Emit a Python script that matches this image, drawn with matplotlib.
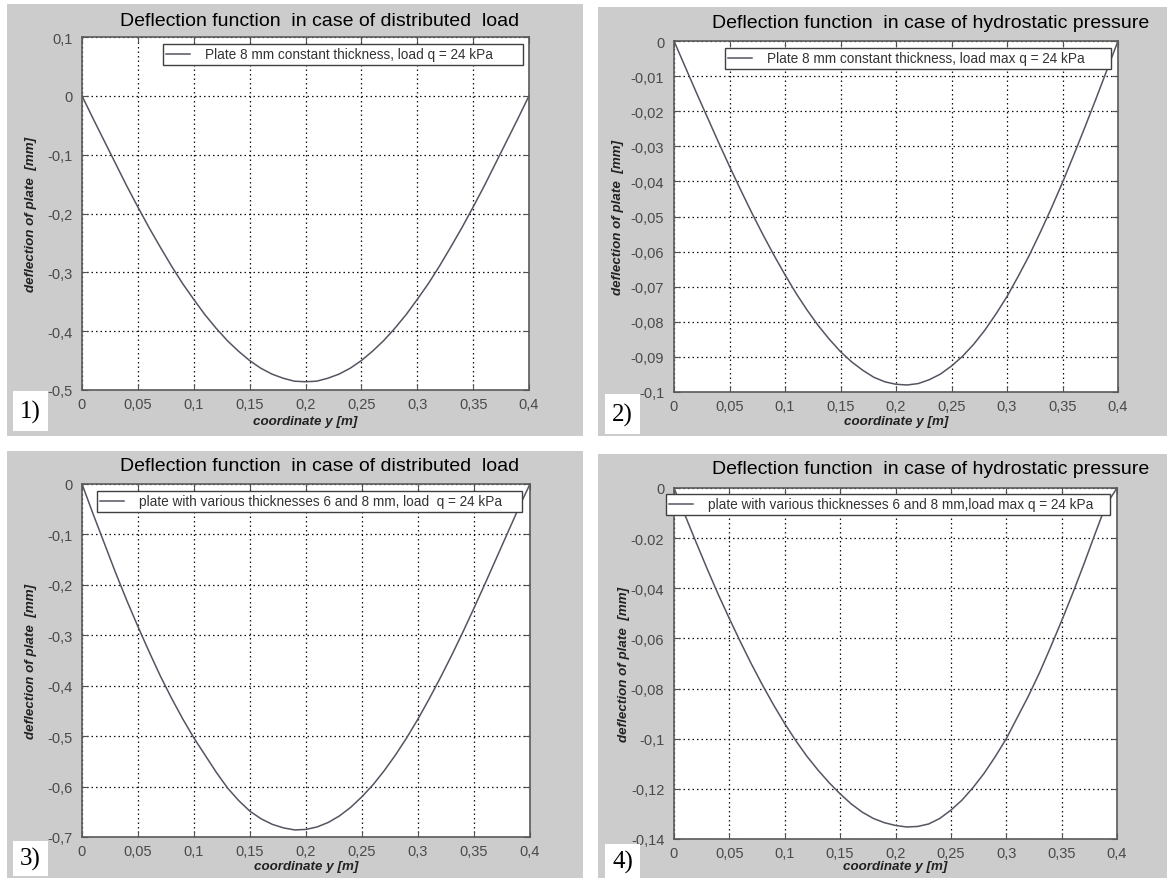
import matplotlib
matplotlib.use("Agg")
import matplotlib.pyplot as plt
from matplotlib.patches import Rectangle

plt.rcParams['font.family'] = ['Liberation Sans', 'DejaVu Sans']

W, H = 1167, 879

# coordinate y [m]
y_coord = [0.00, 0.01, 0.02, 0.03, 0.04, 0.05, 0.06, 0.07, 0.08, 0.09, 0.10,
           0.11, 0.12, 0.13, 0.14, 0.15, 0.16, 0.17, 0.18, 0.19, 0.20,
           0.21, 0.22, 0.23, 0.24, 0.25, 0.26, 0.27, 0.28, 0.29, 0.30,
           0.31, 0.32, 0.33, 0.34, 0.35, 0.36, 0.37, 0.38, 0.39, 0.40]

# deflection of plate [mm]
defl_1 = [0, -0.039, -0.077, -0.115, -0.153, -0.189, -0.224, -0.257, -0.289, -0.319, -0.346,
          -0.372, -0.395, -0.416, -0.434, -0.450, -0.463, -0.473, -0.480, -0.485, -0.486,
          -0.485, -0.480, -0.473, -0.463, -0.450, -0.434, -0.416, -0.395, -0.372, -0.346,
          -0.319, -0.289, -0.257, -0.224, -0.189, -0.153, -0.115, -0.077, -0.039, 0]
defl_2 = [0, -0.0073, -0.0146, -0.0217, -0.0288, -0.0357, -0.0424, -0.0489, -0.0551, -0.0610, -0.0666,
          -0.0719, -0.0767, -0.0811, -0.0850, -0.0885, -0.0914, -0.0938, -0.0958, -0.0971, -0.0978,
          -0.0980, -0.0976, -0.0965, -0.0949, -0.0926, -0.0898, -0.0864, -0.0824, -0.0778, -0.0728,
          -0.0671, -0.0611, -0.0545, -0.0476, -0.0403, -0.0326, -0.0247, -0.0166, -0.0083, 0]
defl_3 = [0, -0.060, -0.118, -0.176, -0.231, -0.283, -0.333, -0.381, -0.425, -0.466, -0.504,
          -0.538, -0.572, -0.603, -0.628, -0.649, -0.664, -0.675, -0.682, -0.686, -0.685,
          -0.680, -0.671, -0.658, -0.641, -0.620, -0.596, -0.568, -0.537, -0.503, -0.466,
          -0.426, -0.384, -0.340, -0.294, -0.246, -0.197, -0.147, -0.097, -0.047, 0]
defl_4 = [0, -0.0109, -0.0217, -0.0323, -0.0425, -0.0521, -0.0614, -0.0703, -0.0787, -0.0866, -0.0940,
          -0.1008, -0.1070, -0.1125, -0.1175, -0.1220, -0.1260, -0.1293, -0.1318, -0.1335, -0.1346,
          -0.1352, -0.1350, -0.1340, -0.1318, -0.1285, -0.1245, -0.1195, -0.1138, -0.1072, -0.1000,
          -0.0915, -0.0830, -0.0737, -0.0635, -0.0530, -0.0420, -0.0305, -0.0185, -0.0068, 0]

x_ticks = [0, 0.05, 0.1, 0.15, 0.2, 0.25, 0.3, 0.35, 0.4]
x_tick_labels = ['0', '0,05', '0,1', '0,15', '0,2', '0,25', '0,3', '0,35', '0,4']

y_ticks_1 = [0.1, 0, -0.1, -0.2, -0.3, -0.4, -0.5]
y_labels_1 = ['0,1', '0', '-0,1', '-0,2', '-0,3', '-0,4', '-0,5']
y_ticks_2 = [0, -0.01, -0.02, -0.03, -0.04, -0.05, -0.06, -0.07, -0.08, -0.09, -0.1]
y_labels_2 = ['0', '-0,01', '-0,02', '-0,03', '-0,04', '-0,05', '-0,06', '-0,07', '-0,08', '-0,09', '-0,1']
y_ticks_3 = [0, -0.1, -0.2, -0.3, -0.4, -0.5, -0.6, -0.7]
y_labels_3 = ['0', '-0,1', '-0,2', '-0,3', '-0,4', '-0,5', '-0,6', '-0,7']
y_ticks_4 = [0, -0.02, -0.04, -0.06, -0.08, -0.1, -0.12, -0.14]
y_labels_4 = ['0', '-0.02', '-0,04', '-0,06', '-0,08', '-0,1', '-0,12', '-0,14']

titles = ['Deflection function  in case of distributed  load',
          'Deflection function  in case of hydrostatic pressure',
          'Deflection function  in case of distributed  load',
          'Deflection function  in case of hydrostatic pressure']
legend_labels = ['Plate 8 mm constant thickness, load q = 24 kPa',
                 'Plate 8 mm constant thickness, load max q = 24 kPa',
                 'plate with various thicknesses 6 and 8 mm, load  q = 24 kPa',
                 'plate with various thicknesses 6 and 8 mm,load max q = 24 kPa']
tags = ['1)', '2)', '3)', '4)']


def fbox(l, t, r, b):
    # pixel box (top-left origin) -> figure fraction [x, y, w, h]
    return [l / W, 1 - b / H, (r - l) / W, (b - t) / H]


panels = [
    dict(y=defl_1, yt=y_ticks_1, yl=y_labels_1, ylim=(-0.5, 0.1),
         bg=(7, 5, 583, 437), ax=(82, 38, 529, 391), title=(320, 21),
         leg=(163, 45, 523, 66), tag=(13, 392, 48, 432), ylab_x=31, xlab_y=422),
    dict(y=defl_2, yt=y_ticks_2, yl=y_labels_2, ylim=(-0.1, 0),
         bg=(598, 8, 1167, 437), ax=(674, 42, 1118, 393), title=(931, 23),
         leg=(725, 49, 1111, 69), tag=(605, 395, 640, 435), ylab_x=618, xlab_y=422),
    dict(y=defl_3, yt=y_ticks_3, yl=y_labels_3, ylim=(-0.7, 0),
         bg=(7, 452, 583, 879), ax=(82, 485, 530, 838), title=(320, 467),
         leg=(97, 492, 522, 513), tag=(13, 842, 48, 877), ylab_x=31, xlab_y=867),
    dict(y=defl_4, yt=y_ticks_4, yl=y_labels_4, ylim=(-0.14, 0),
         bg=(598, 455, 1167, 879), ax=(674, 489, 1117, 840), title=(931, 470),
         leg=(666, 495, 1110, 516), tag=(605, 845, 640, 879), ylab_x=624, xlab_y=867),
]

fig = plt.figure(figsize=(W / 100, H / 100), dpi=100)
fig.patch.set_facecolor('white')

for i, p in enumerate(panels):
    bx = fbox(*p['bg'])
    fig.add_artist(Rectangle((bx[0], bx[1]), bx[2], bx[3], transform=fig.transFigure,
                             facecolor='#cccccc', edgecolor='none', zorder=0))

    ax = fig.add_axes(fbox(*p['ax']))
    ax.set_facecolor('white')
    ax.plot(y_coord, p['y'], color='#555562', lw=1.1, label=legend_labels[i])
    ax.set_xlim(0, 0.4)
    ax.set_ylim(*p['ylim'])
    ax.set_xticks(x_ticks, x_tick_labels)
    ax.set_yticks(p['yt'], p['yl'])
    ax.grid(True, color='#111111', linestyle=(0, (1.2, 2.4)), lw=0.9)
    ax.tick_params(direction='in', top=True, right=True, length=4, width=0.8,
                   color='#505050', labelsize=10.5, labelcolor='#4a4a4a')
    ax.tick_params(axis='y', pad=7)
    ax.tick_params(axis='x', pad=5)
    for s in ax.spines.values():
        s.set_color('#5a5a5a')
        s.set_linewidth(1.2)

    l, t, r, b = p['ax']
    ax.set_xlabel('coordinate y [m]', fontsize=9.6, fontweight='bold', fontstyle='italic',
                  color='#222222', va='center')
    ax.xaxis.set_label_coords(0.5, (b - p['xlab_y']) / (b - t))
    ax.set_ylabel('deflection of plate  [mm]', fontsize=9.6, fontweight='bold', fontstyle='italic',
                  color='#222222', va='center')
    ax.yaxis.set_label_coords((p['ylab_x'] - l) / (r - l), 0.5)

    cx, cy = p['title']
    fig.text(cx / W, 1 - cy / H, titles[i], ha='center', va='center', fontsize=14, color='black')

    leg = ax.legend(loc='upper left', bbox_to_anchor=fbox(*p['leg']), bbox_transform=fig.transFigure,
                    mode='expand', borderaxespad=0, fancybox=False, edgecolor='#404040',
                    framealpha=1, fontsize=9.8, handlelength=1.7, handletextpad=1.1,
                    borderpad=0.25, labelcolor='#333333')
    leg.get_frame().set_linewidth(1.0)

    tb = fbox(*p['tag'])
    fig.add_artist(Rectangle((tb[0], tb[1]), tb[2], tb[3], transform=fig.transFigure,
                             facecolor='white', edgecolor='none', zorder=1))
    fig.text(tb[0] + tb[2] / 2, tb[1] + tb[3] / 2, tags[i], ha='center', va='center',
             fontsize=18, family=['Liberation Serif', 'DejaVu Serif'], color='black')

fig.savefig('out.png', dpi=100)
